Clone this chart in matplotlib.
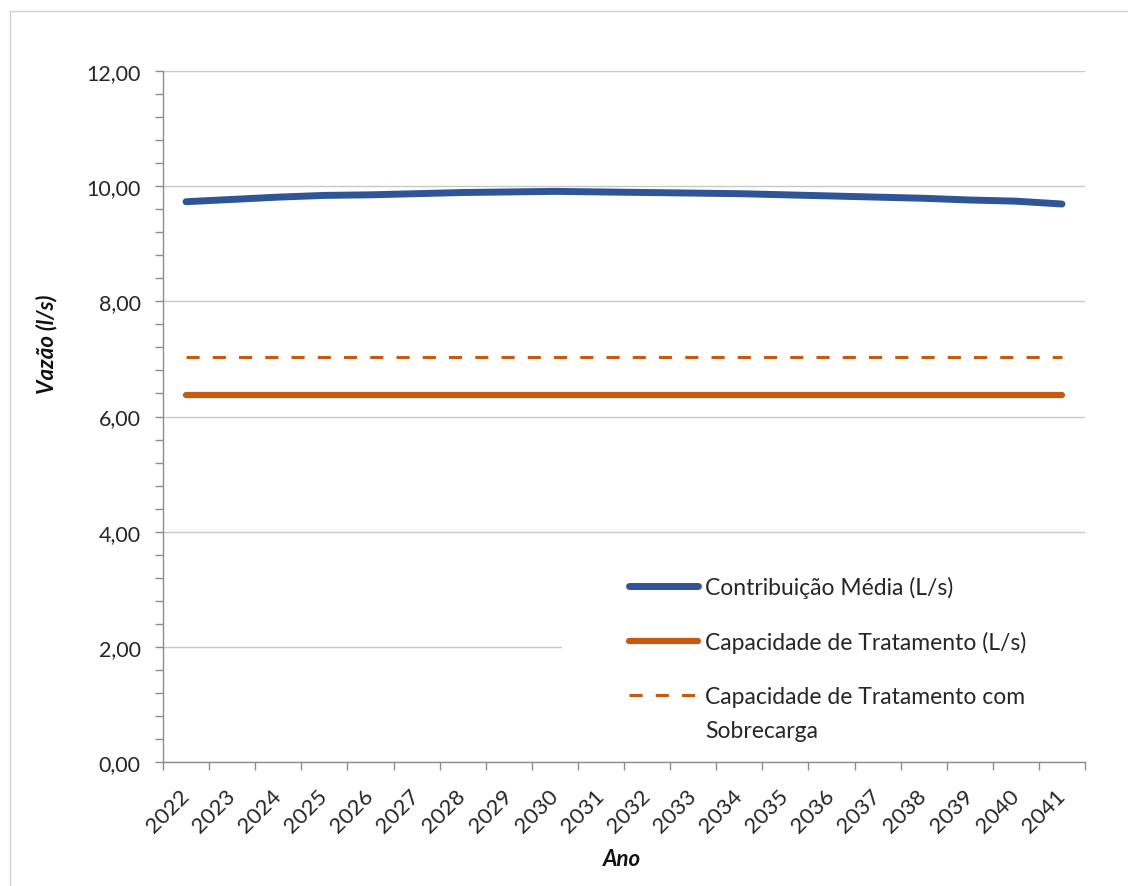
import matplotlib
matplotlib.use("Agg")
import matplotlib.pyplot as plt
from matplotlib.patches import Rectangle
from matplotlib.ticker import MultipleLocator, FixedLocator, FuncFormatter


# -------------------------------------------------
# Data
# -------------------------------------------------

years = [
    "2022", "2023", "2024", "2025", "2026",
    "2027", "2028", "2029", "2030", "2031",
    "2032", "2033", "2034", "2035", "2036",
    "2037", "2038", "2039", "2040", "2041"
]

contribuicao_media = [
    9.73, 9.77, 9.81, 9.84, 9.85,
    9.87, 9.89, 9.90, 9.91, 9.90,
    9.89, 9.88, 9.87, 9.85, 9.83,
    9.81, 9.79, 9.76, 9.74, 9.69
]

capacidade_tratamento = [6.38] * len(years)

capacidade_sobrecarga = [7.04] * len(years)

y_ticks = [0, 2, 4, 6, 8, 10, 12]

BLUE = "#2F5597"
ORANGE = "#C55A11"
FONT = "Lato"


plt.rcParams["font.family"] = [FONT, "DejaVu Sans"]


fig = plt.figure(
    figsize=(11.28, 8.87),
    dpi=100
)

ax = fig.add_axes(
    [0.1445, 0.1398, 0.8174, 0.779]
)

x = list(range(len(years)))


# -------------------------------------------------
# Lines
# -------------------------------------------------

ax.plot(
    x,
    contribuicao_media,
    color=BLUE,
    linewidth=5,
    solid_capstyle="round",
    zorder=3,
    label="Contribuição Média (L/s)"
)

ax.plot(
    x,
    capacidade_tratamento,
    color=ORANGE,
    linewidth=4.5,
    solid_capstyle="round",
    zorder=3,
    label="Capacidade de Tratamento (L/s)"
)

ax.plot(
    x,
    capacidade_sobrecarga,
    color=ORANGE,
    linewidth=2.25,
    dashes=(4.2, 4.2),
    zorder=3,
    label="Capacidade de Tratamento com"
)


# -------------------------------------------------
# Axes styling
# -------------------------------------------------

ax.set_xlim(-0.5, len(years) - 0.5)
ax.set_ylim(0, 12)

ax.yaxis.set_major_locator(FixedLocator(y_ticks))
ax.yaxis.set_minor_locator(MultipleLocator(0.4))
ax.yaxis.set_major_formatter(
    FuncFormatter(lambda v, p: f"{v:.2f}".replace(".", ","))
)

ax.xaxis.set_major_locator(
    FixedLocator([i - 0.5 for i in range(len(years) + 1)])
)
ax.xaxis.set_major_formatter(FuncFormatter(lambda v, p: ""))
ax.set_xticks(x, years, minor=True)

for label in ax.get_xticklabels(minor=True):
    label.set_rotation(45)
    label.set_ha("right")
    label.set_va("center")
    label.set_rotation_mode("anchor")

ax.tick_params(
    axis="x", which="major",
    length=6, width=1, color="#8C8C8C"
)
ax.tick_params(
    axis="x", which="minor",
    length=0, pad=22, labelsize=16, labelcolor="#262626"
)
ax.tick_params(
    axis="y", which="both",
    length=6, width=1, color="#8C8C8C",
    pad=10, labelsize=15.5, labelcolor="#262626"
)

for side in ["top", "right"]:
    ax.spines[side].set_visible(False)

for side in ["left", "bottom"]:
    ax.spines[side].set_color("#8C8C8C")
    ax.spines[side].set_linewidth(1)

ax.grid(axis="y", which="major", color="#C8C8C8", linewidth=1)
ax.set_axisbelow(True)


# -------------------------------------------------
# Legend
# -------------------------------------------------

ax.add_patch(
    Rectangle(
        (0.433, 0.02), 0.6, 0.29,
        transform=ax.transAxes,
        facecolor="white",
        edgecolor="none",
        zorder=1,
        clip_on=False
    )
)

legend = ax.legend(
    loc="upper left",
    bbox_to_anchor=(0.496, 0.283),
    frameon=False,
    fontsize=16.5,
    handlelength=3.0,
    handletextpad=0.3,
    labelspacing=1.45,
    borderaxespad=0
)

legend.set_zorder(4)

ax.annotate(
    "Sobrecarga",
    xy=(0, 0),
    xycoords=legend.get_texts()[2],
    xytext=(0, -9),
    textcoords="offset points",
    ha="left",
    va="top",
    fontsize=16.5,
    color="#262626",
    zorder=5
)

for text in legend.get_texts():
    text.set_color("#262626")


# -------------------------------------------------
# Axis titles and outer border
# -------------------------------------------------

fig.text(
    47 / 1128, 1 - 344 / 887,
    "Vazão (l/s)",
    rotation=90,
    ha="center",
    va="center",
    fontsize=16,
    fontweight="bold",
    fontstyle="italic",
    color="#111111"
)

fig.text(
    622 / 1128, 1 - 860 / 887,
    "Ano",
    ha="center",
    va="center",
    fontsize=16,
    fontweight="bold",
    fontstyle="italic",
    color="#111111"
)

fig.add_artist(
    Rectangle(
        (10 / 1128, -0.1), 1.2, 1 - 12 / 887 + 0.1,
        transform=fig.transFigure,
        facecolor="none",
        edgecolor="#D0D0D0",
        linewidth=1
    )
)

fig.savefig("out.png", dpi=100)
